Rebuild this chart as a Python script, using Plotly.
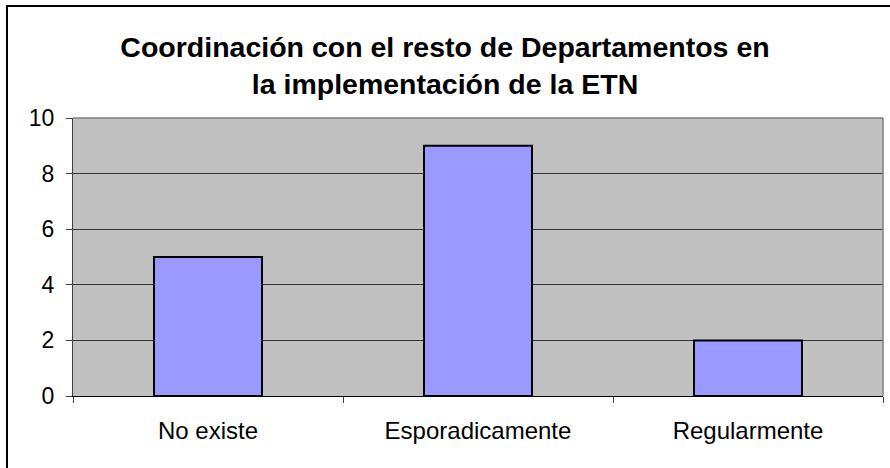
import plotly.graph_objects as go

# Survey answers and counts
categories = ["No existe", "Esporadicamente", "Regularmente"]
counts = [5, 9, 2]
y_ticks = [0, 2, 4, 6, 8, 10]

W, H = 890, 468
L, R, T, B = 73, 7, 118, 72
plot_w = W - L - R
plot_h = H - T - B

fig = go.Figure(
    go.Bar(
        x=categories,
        y=counts,
        marker=dict(color="#9999FF", line=dict(color="black", width=2)),
        hoverinfo="x+y",
    )
)

font_family = "Liberation Sans, Arial, sans-serif"

fig.update_layout(
    width=W,
    height=H,
    margin=dict(l=L, r=R, t=T, b=B),
    paper_bgcolor="white",
    plot_bgcolor="#C0C0C0",
    bargap=0.6,
    showlegend=False,
    font=dict(family=font_family, size=22, color="black"),
    title=dict(
        text="<b>Coordinación con el resto de Departamentos en<br>la implementación de la ETN</b>",
        x=0.5,
        xref="container",
        xanchor="center",
        y=1 - 57 / H,
        yref="container",
        yanchor="middle",
        font=dict(family=font_family, size=28.5, color="black"),
    ),
    xaxis=dict(
        type="category",
        showline=True,
        linecolor="black",
        linewidth=1,
        ticks="outside",
        tickson="boundaries",
        ticklen=6,
        tickcolor="#404040",
        showgrid=False,
        tickfont=dict(size=24),
        ticklabelstandoff=13,
    ),
    yaxis=dict(
        range=[0, 10],
        tickvals=y_ticks,
        showline=True,
        linecolor="#404040",
        linewidth=1,
        ticks="outside",
        ticklen=6,
        tickcolor="#404040",
        showgrid=True,
        gridcolor="#333333",
        gridwidth=1,
        zeroline=False,
        tickfont=dict(size=23),
        ticklabelstandoff=7,
    ),
    shapes=[
        # top and right edges of the plotting area
        dict(type="line", xref="paper", yref="paper", x0=0, x1=1, y0=1, y1=1,
             line=dict(color="#808080", width=1.5)),
        dict(type="line", xref="paper", yref="paper", x0=1, x1=1, y0=0, y1=1,
             line=dict(color="#808080", width=1.5)),
        # outer chart frame
        dict(type="rect", xref="paper", yref="paper",
             x0=(7 - L) / plot_w, x1=(W + 10 - L) / plot_w,
             y0=(H - B - (H + 10)) / plot_h, y1=(H - B - 6) / plot_h,
             line=dict(color="black", width=2), fillcolor="rgba(0,0,0,0)",
             layer="below"),
    ],
)

fig.write_html("out.html")
